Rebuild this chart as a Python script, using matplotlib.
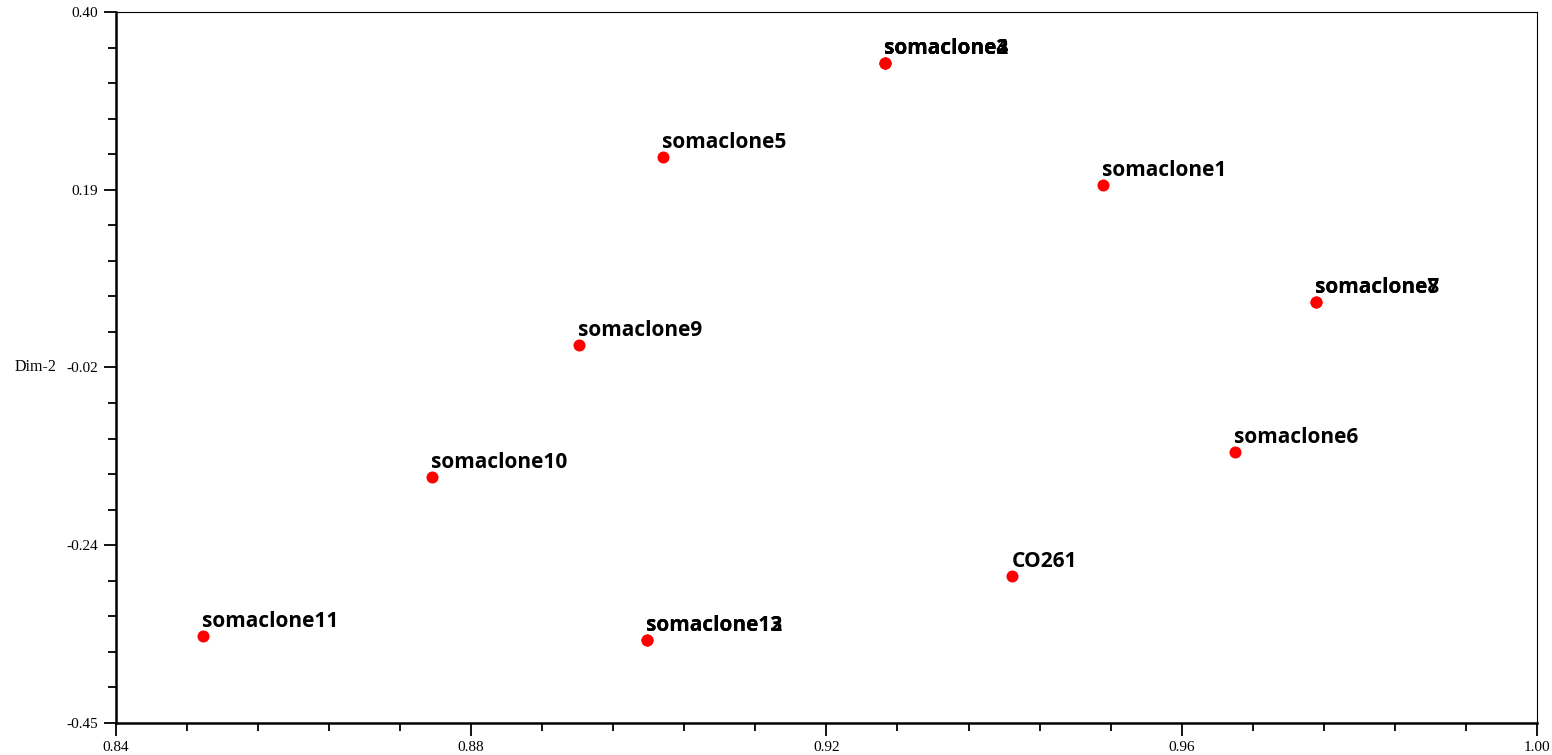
import numpy as np
import matplotlib
matplotlib.use('Agg')
import matplotlib.pyplot as plt
from matplotlib.ticker import FixedLocator, AutoMinorLocator

# point coordinates (Dim-1, Dim-2)
names = ["somaclone1", "somaclone2", "somaclone3", "somaclone4", "somaclone5",
         "somaclone6", "somaclone7", "somaclone8", "somaclone9", "somaclone10",
         "somaclone11", "somaclone12", "somaclone13", "CO261"]
dim1 = [0.9511, 0.9266, 0.9266, 0.9266, 0.9016,
        0.9660, 0.9751, 0.9751, 0.8921, 0.8756,
        0.8498, 0.8998, 0.8998, 0.9409]
dim2 = [0.1932, 0.3390, 0.3390, 0.3390, 0.2267,
        -0.1260, 0.0533, 0.0533, 0.0020, -0.1560,
        -0.3460, -0.3510, -0.3510, -0.2740]

xticks = [0.84, 0.88, 0.92, 0.96, 1.00]
xticklabels = ["0.84", "0.88", "0.92", "0.96", "1.00"]
yticks = [0.40, 0.1875, -0.025, -0.2375, -0.45]
yticklabels = ["0.40", "0.19", "-0.02", "-0.24", "-0.45"]

fig = plt.figure(figsize=(15.52, 7.55), dpi=100)
ax = fig.add_axes([0.0747, 0.0424, 0.9156, 0.9417])

ax.scatter(dim1, dim2, s=75, color="#ff0000", zorder=3, linewidths=0)
for name, x, y in zip(names, dim1, dim2):
    ax.annotate(name, (x, y), xytext=(-0.5, 3), textcoords="offset points",
                ha="left", va="bottom", fontsize=15, fontweight="bold",
                family="Open Sans", color="black")

ax.set_xlim(0.84, 1.00)
ax.set_ylim(-0.45, 0.40)

ax.xaxis.set_major_locator(FixedLocator(xticks))
ax.set_xticklabels(xticklabels)
ax.yaxis.set_major_locator(FixedLocator(yticks))
ax.set_yticklabels(yticklabels)
ax.xaxis.set_minor_locator(AutoMinorLocator(5))
ax.yaxis.set_minor_locator(AutoMinorLocator(5))

for lab in ax.get_xticklabels() + ax.get_yticklabels():
    lab.set_family("Liberation Serif")
    lab.set_fontsize(11)

ax.tick_params(which="major", direction="out", length=9, width=1.3, pad=4)
ax.tick_params(which="minor", direction="out", length=6, width=1.3)

ax.spines["left"].set_linewidth(1.8)
ax.spines["bottom"].set_linewidth(1.8)
ax.spines["top"].set_linewidth(0.8)
ax.spines["right"].set_linewidth(0.8)

ax.set_ylabel("Dim-2", rotation=0, ha="right", va="center",
              family="Liberation Serif", fontsize=11.5)
ax.yaxis.set_label_coords(-0.042, 0.5)

fig.savefig("out.png", dpi=100)
